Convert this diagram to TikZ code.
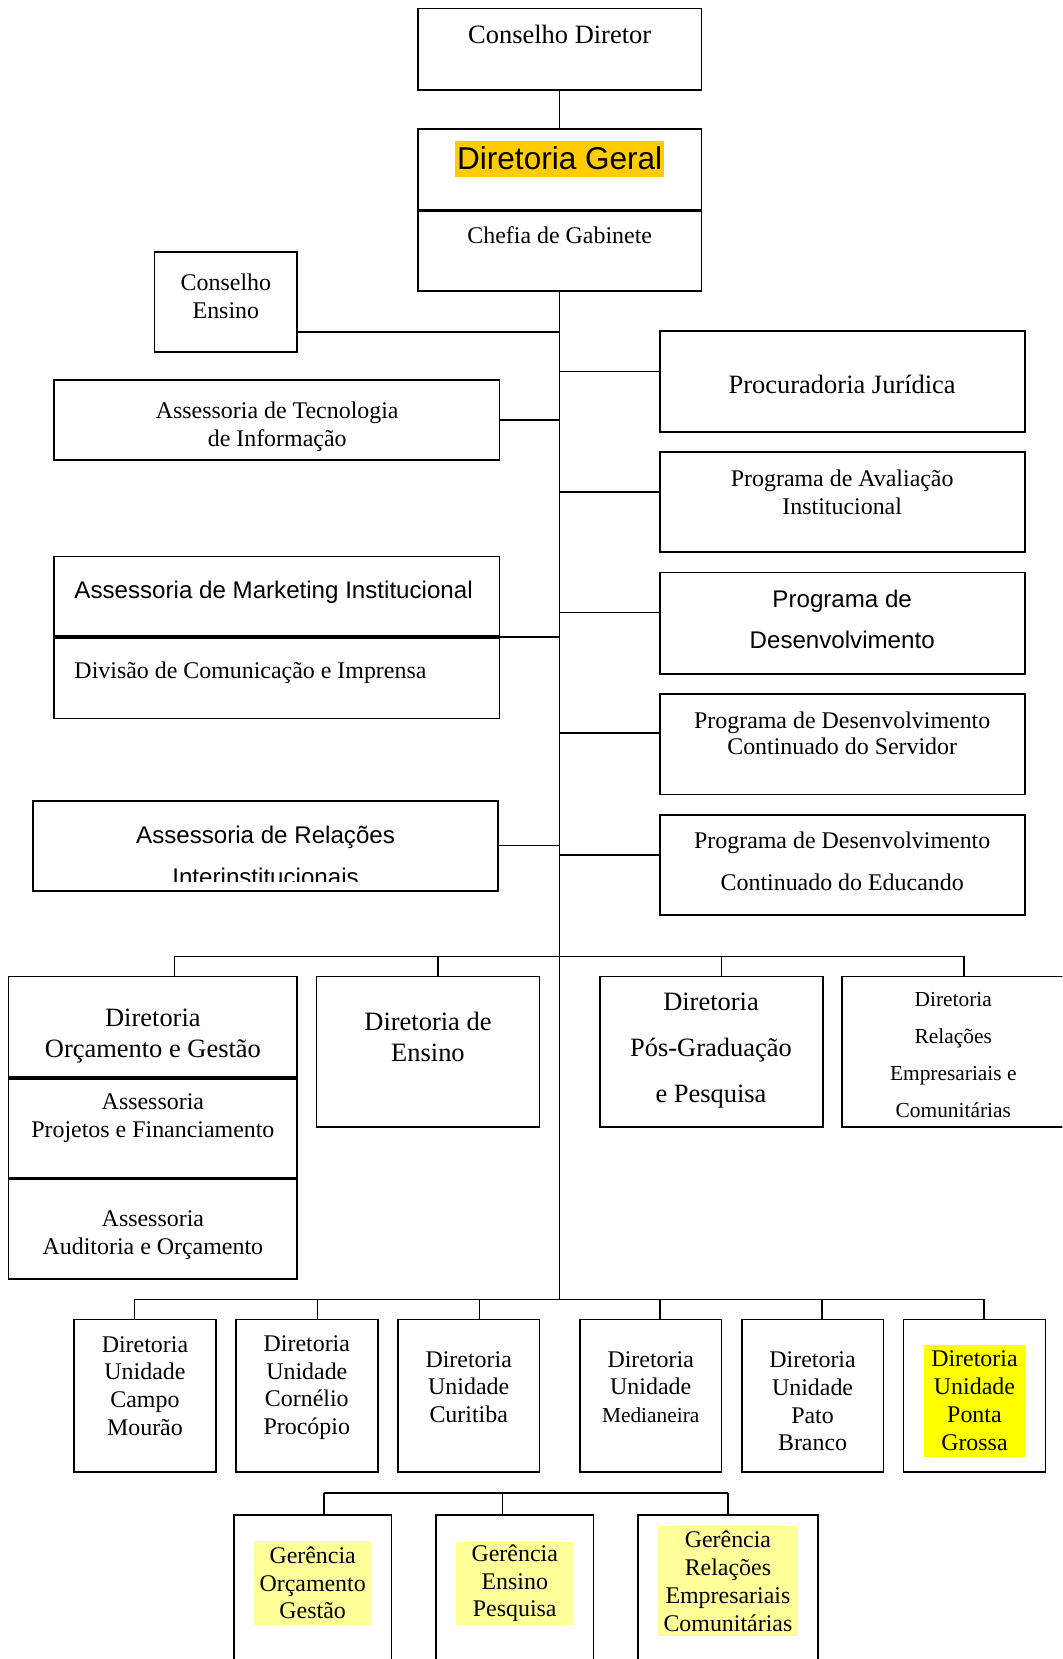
\documentclass[tikz,border=0pt]{standalone}
\usepackage{fontspec}
\setmainfont{Liberation Serif}
\newfontfamily\arialfont{Liberation Sans}
\usepackage{xcolor}
\usetikzlibrary{fit,positioning}
\definecolor{geralhl}{RGB}{255,204,0}
\definecolor{pontahl}{RGB}{255,255,0}
\definecolor{gerhl}{RGB}{255,255,153}
\tikzset{
  orgbox/.style={draw, line width=0.8pt, inner sep=0pt},
  divider/.style={line width=1.6pt},
  link/.style={line width=0.7pt},
  txt/.style={align=center, inner sep=0pt, font=\fontsize{11.3}{13.15}\selectfont},
  txtL/.style={align=center, inner sep=0pt, font=\fontsize{12.5}{14.5}\selectfont},
  txtS/.style={align=center, inner sep=0pt, font=\fontsize{10.1}{17.5}\selectfont},
  txtA/.style={align=center, inner sep=0pt, font=\arialfont\fontsize{11.4}{19.5}\selectfont},
  hlbox/.style={fill=gerhl, inner sep=0pt}
}
% box spanning two corners
\newcommand{\OrgBox}[5]{\node[orgbox, fit={(#2,#3) (#4,#5)}] (#1) {};}

\begin{document}
\begin{tikzpicture}[x=0.5pt, y=-0.5pt]
  \clip (0,0) rectangle (1004,1568);
  % top
  \OrgBox{cd}{395}{8}{663}{85}
  \OrgBox{dg}{395}{122}{663}{275}
  \draw[divider] (dg.west |- 0,199) -- (dg.east |- 0,199);
  % staff boxes
  \OrgBox{ce}{146}{238}{281}{333}
  \OrgBox{ati}{51}{359}{472}{435}
  \OrgBox{ami}{51}{526}{472}{679}
  \draw[divider] (ami.west |- 0,602) -- (ami.east |- 0,602);
  \OrgBox{ari}{31}{757}{471}{842}
  \OrgBox{pj}{624}{313}{969}{408}
  \OrgBox{pai}{624}{427}{969}{522}
  \OrgBox{pd}{624}{541}{969}{637}
  \OrgBox{pds}{624}{656}{969}{751}
  \OrgBox{pde}{624}{770}{969}{865}
  % directorates
  \OrgBox{dog}{8}{923}{281}{1209}
  \draw[divider] (dog.west |- 0,1019) -- (dog.east |- 0,1019);
  \draw[divider] (dog.west |- 0,1114) -- (dog.east |- 0,1114);
  \OrgBox{de}{299}{923}{510}{1065}
  \OrgBox{dpg}{567}{923}{778}{1065}
  \OrgBox{drec}{796}{923}{1015}{1065}
  % units
  \OrgBox{ucm}{70}{1247}{204}{1391}
  \OrgBox{ucp}{223}{1247}{357}{1391}
  \OrgBox{uct}{376}{1247}{510}{1391}
  \OrgBox{umd}{548}{1247}{682}{1391}
  \OrgBox{upb}{701}{1247}{835}{1391}
  \OrgBox{upg}{854}{1247}{988}{1391}
  % managements
  \OrgBox{gog}{221}{1432}{370}{1580}
  \OrgBox{gep}{412}{1432}{561}{1580}
  \OrgBox{grec}{603}{1432}{773}{1580}

  % texts
  \node[txtL] (cd-t) at (529,33) {Conselho Diretor};
  \node[fill=geralhl, inner xsep=1pt, inner ysep=0pt, minimum height=17pt,
    font=\arialfont\fontsize{14.9}{17}\selectfont] (dg-t) at (529,150) {Diretoria Geral};
  \node[txt] (cg-t) at (529,222) {Chefia de Gabinete};
  \node[txt] (ce-t) at (213.5,280) {Conselho\\Ensino};
  \node[txt] (ati-t) at (262,403) {Assessoria de Tecnologia\\de Informação};
  \node[txtA, anchor=west] (ami-t) at (70,560) {Assessoria de Marketing Institucional};
  \node[txt, anchor=west] (dci-t) at (70,636) {Divisão de Comunicação e Imprensa};
  \begin{scope}
    \clip (31,757) rectangle (471,833);
    \node[txtA, font=\arialfont\fontsize{11.4}{20}\selectfont] (ari-t) at (251,809)
      {Assessoria de Relações\\Interinstitucionais};
  \end{scope}
  \node[txtL] (pj-t) at (796,363) {Procuradoria Jurídica};
  \node[txt] (pai-t) at (796,465) {Programa de Avaliação\\Institucional};
  \node[txtA] (pd-t) at (796,585.5) {Programa de\\Desenvolvimento};
  \node[txt, font=\fontsize{11.3}{12.6}\selectfont] (pds-t) at (796,693)
    {Programa de Desenvolvimento\\Continuado do Servidor};
  \node[txt, font=\fontsize{11.3}{19.5}\selectfont] (pde-t) at (796,814)
    {Programa de Desenvolvimento\\Continuado do Educando};
  \node[txtL] (dog-t) at (144.5,979) {Diretoria\\Orçamento e Gestão};
  \node[txt] (apf-t) at (144.5,1057) {Assessoria\\Projetos e Financiamento};
  \node[txt] (aao-t) at (144.5,1167) {Assessoria\\Auditoria e Orçamento};
  \node[txtL] (de-t) at (404.5,980) {Diretoria de\\Ensino};
  \node[txtL, font=\fontsize{12.5}{21.75}\selectfont] (dpg-t) at (672,993)
    {Diretoria\\Pós-Graduação\\e Pesquisa};
  \node[txtS] (drec-t) at (901,997.5) {Diretoria\\Relações\\Empresariais e\\Comunitárias};
  \node[txt] (ucm-t) at (137,1310) {Diretoria\\Unidade\\Campo\\Mourão};
  \node[txt] (ucp-t) at (290,1311.5) {Diretoria\\Unidade\\Cornélio\\Procópio};
  \node[txt] (uct-t) at (443,1311) {Diretoria\\Unidade\\Curitiba};
  \node[txt] (umd-t) at (615,1311)
    {Diretoria\\Unidade\\{\fontsize{10.1}{13.15}\selectfont Medianeira}};
  \node[txt] (upb-t) at (768,1324.5) {Diretoria\\Unidade\\Pato\\Branco};
  \node[txt, fill=pontahl, minimum width=48pt, minimum height=53pt] (upg-t) at (921,1324)
    {Diretoria\\Unidade\\Ponta\\Grossa};
  \node[txt, hlbox, minimum width=55.5pt, minimum height=39.5pt] (gog-t) at (295.5,1496)
    {Gerência\\Orçamento\\Gestão};
  \node[txt, hlbox, minimum width=55.5pt, minimum height=39.5pt] (gep-t) at (486.5,1496.5)
    {Gerência\\Ensino\\Pesquisa};
  \node[txt, hlbox, minimum width=66pt, minimum height=52pt] (grec-t) at (688,1494.5)
    {Gerência\\Relações\\Empresariais\\Comunitárias};

  % trunk
  \coordinate (busA) at (529,904);
  \coordinate (busB) at (529,1228);
  \draw[link] (cd.south) -- (dg.north);
  \draw[link] (dg.south) -- (busB);
  % left side branches
  \foreach \yy/\nm in {314/ce,397/ati,602/ami,799/ari}{
    \coordinate (j-\nm) at (529,\yy);
    \draw[link] (j-\nm -| \nm.east) -- (j-\nm);
  }
  % right side branches
  \foreach \yy/\nm in {351/pj,465/pai,579/pd,693/pds,808/pde}{
    \coordinate (j-\nm) at (529,\yy);
    \draw[link] (j-\nm) -- (j-\nm -| \nm.west);
  }
  % directorates bus
  \draw[link] (165,904) -- (911,904);
  \foreach \xx/\nm in {165/dog,414/de,682/dpg,911/drec}
    \draw[link] (\xx,904) -- (\xx,904 |- \nm.north);
  % units bus
  \draw[link] (127,1228) -- (930,1228);
  \foreach \xx/\nm in {127/ucm,300/ucp,453/uct,624/umd,777/upb,930/upg}
    \draw[link] (\xx,1228) -- (\xx,1228 |- \nm.north);
  % managements bus
  \draw[link] (306,1411) -- (688,1411);
  \foreach \xx/\nm in {306/gog,475/gep,688/grec}
    \draw[link] (\xx,1411) -- (\xx,1411 |- \nm.north);
\end{tikzpicture}
\end{document}
